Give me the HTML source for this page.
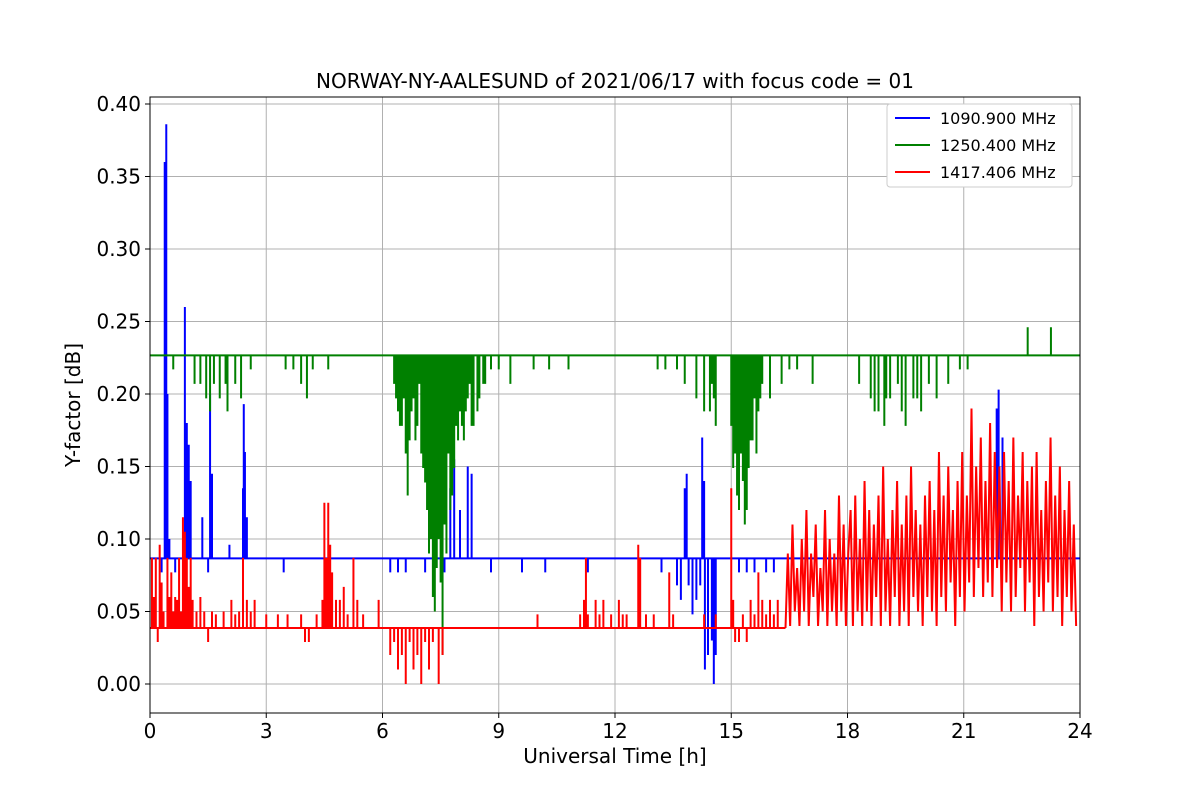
<!DOCTYPE html>
<html><head><meta charset="utf-8">
<style>
body{margin:0;background:#fff;}
svg{display:block;font-family:"DejaVu Sans","Liberation Sans",sans-serif;}
</style></head>
<body>
<svg id="chart" width="1200" height="800">
<rect width="1200" height="800" fill="#fff"/>
<text x="615" y="88" font-size="20" text-anchor="middle">NORWAY-NY-AALESUND of 2021/06/17 with focus code = 01</text>
<g id="grid"></g>
<g id="series"></g>
<rect x="150" y="97" width="930" height="616" fill="none" stroke="#000" stroke-width="1"/>
<g id="axes"></g>
<text x="615" y="763" font-size="20" text-anchor="middle">Universal Time [h]</text>
<text transform="translate(80,405) rotate(-90)" font-size="20" text-anchor="middle">Y-factor [dB]</text>
<g>
<rect x="887" y="104" width="185" height="83" fill="#fff" stroke="#ccc" rx="3"/>
<g><line x1="895" y1="118" x2="930" y2="118" stroke="#0000ff" stroke-width="2"/><text x="940" y="124" font-size="16">1090.900 MHz</text></g>
<g><line x1="895" y1="145" x2="930" y2="145" stroke="#008000" stroke-width="2"/><text x="940" y="151" font-size="16">1250.400 MHz</text></g>
<g><line x1="895" y1="172" x2="930" y2="172" stroke="#ff0000" stroke-width="2"/><text x="940" y="178" font-size="16">1417.406 MHz</text></g>
</g>
</svg>
<script>
const xTicks=[0,3,6,9,12,15,18,21,24];
const yTicks=[0,0.05,0.10,0.15,0.20,0.25,0.30,0.35,0.40];
const yTickLabels=["0.00","0.05","0.10","0.15","0.20","0.25","0.30","0.35","0.40"];
const blueBase=0.0866, greenBase=0.2266, redBase=0.0386;
const blueSpikeT=[0.3,0.38,0.42,0.45,0.5,0.65,0.9,0.95,1.0,1.05,1.35,1.5,1.55,1.6,2.05,2.4,2.42,2.45,2.5,3.45,6.2,6.4,6.6,7.1,7.6,7.75,7.85,8.0,8.2,8.3,8.8,9.6,10.2,11.3,13.2,13.6,13.7,13.8,13.85,13.9,14.0,14.1,14.2,14.25,14.3,14.32,14.4,14.5,14.55,14.6,15.2,15.4,15.6,15.9,16.1,21.85,21.9,22.0];
const blueSpikeV=[0.077,0.36,0.386,0.2,0.1,0.077,0.26,0.18,0.165,0.14,0.115,0.077,0.2,0.145,0.096,0.135,0.193,0.16,0.115,0.077,0.077,0.077,0.077,0.077,0.077,0.135,0.155,0.12,0.15,0.145,0.077,0.077,0.077,0.077,0.077,0.068,0.058,0.135,0.145,0.068,0.048,0.058,0.068,0.17,0.14,0.01,0.02,0.03,0.0,0.02,0.077,0.077,0.077,0.077,0.077,0.19,0.203,0.17];
const greenSpikeT=[0.6,1.15,1.3,1.45,1.55,1.65,1.8,1.95,2.0,2.2,2.35,2.6,3.5,3.7,3.9,4.05,4.2,4.6,6.3,6.4,6.5,6.6,6.65,6.75,6.85,6.95,7.05,7.15,7.2,7.3,7.35,7.45,7.5,7.55,7.6,7.7,7.8,7.9,8.0,8.1,8.2,8.35,8.5,8.65,8.8,9.0,9.3,9.9,10.3,10.8,13.1,13.3,13.6,13.8,14.1,14.3,14.5,14.6,15.0,15.1,15.2,15.3,15.35,15.45,15.55,15.6,15.7,15.8,16.0,16.3,16.5,16.7,17.1,18.3,18.6,18.8,18.95,19.1,19.3,19.5,19.7,19.9,20.1,20.3,20.6,20.9,21.1,22.65,23.25,
6.35,6.45,6.55,6.7,6.8,6.9,7.0,7.1,7.25,7.4,7.65,7.75,7.85,7.95,8.05,8.15,8.25,8.3,8.45,8.6,14.45,14.55,15.05,15.15,15.25,15.4,15.5,15.65,15.75,18.7,19.0,19.4,19.8];
const greenSpikeV=[0.217,0.207,0.207,0.197,0.188,0.207,0.197,0.207,0.188,0.207,0.197,0.217,0.217,0.217,0.207,0.197,0.217,0.217,0.207,0.188,0.178,0.159,0.13,0.188,0.168,0.207,0.149,0.12,0.09,0.06,0.05,0.1,0.07,0.02,0.11,0.159,0.13,0.178,0.188,0.168,0.197,0.178,0.197,0.207,0.217,0.217,0.207,0.217,0.217,0.217,0.217,0.217,0.217,0.207,0.197,0.188,0.207,0.178,0.178,0.159,0.12,0.14,0.11,0.149,0.168,0.197,0.188,0.207,0.197,0.207,0.217,0.217,0.207,0.207,0.197,0.188,0.178,0.197,0.207,0.178,0.197,0.188,0.207,0.197,0.207,0.217,0.217,0.246,0.246,
0.197,0.178,0.197,0.168,0.197,0.178,0.159,0.139,0.1,0.08,0.09,0.12,0.149,0.168,0.178,0.188,0.207,0.178,0.188,0.207,0.188,0.197,0.149,0.13,0.159,0.12,0.168,0.159,0.197,0.188,0.197,0.188,0.197];
const redSpikeT=[0.05,0.1,0.15,0.2,0.25,0.3,0.35,0.45,0.5,0.55,0.6,0.65,0.7,0.75,0.8,0.85,0.9,0.95,1.0,1.05,1.1,1.2,1.3,1.4,1.5,1.6,1.7,1.9,2.1,2.2,2.3,2.4,2.5,2.6,2.7,3.0,3.3,3.55,3.9,4.0,4.1,4.3,4.45,4.5,4.55,4.6,4.65,4.7,4.8,4.9,5.0,5.1,5.25,5.35,5.5,5.9,6.2,6.3,6.4,6.5,6.6,6.7,6.8,6.9,7.0,7.1,7.2,7.3,7.45,7.55,10.0,11.1,11.2,11.25,11.3,11.5,11.6,11.7,11.9,12.1,12.2,12.3,12.6,12.65,12.8,13.0,13.4,13.5,14.3,14.6,15.0,15.05,15.1,15.2,15.3,15.4,15.5,15.6,15.7,15.8,15.9,16.0,16.1,16.2];
const redSpikeV=[0.087,0.06,0.087,0.029,0.096,0.07,0.05,0.087,0.06,0.077,0.05,0.06,0.058,0.087,0.05,0.115,0.105,0.087,0.067,0.087,0.058,0.05,0.06,0.05,0.029,0.05,0.048,0.05,0.058,0.048,0.05,0.087,0.058,0.05,0.058,0.048,0.048,0.048,0.048,0.029,0.029,0.048,0.058,0.125,0.087,0.125,0.096,0.077,0.058,0.058,0.067,0.048,0.087,0.058,0.048,0.058,0.02,0.029,0.01,0.02,0.0,0.029,0.01,0.02,0.0,0.029,0.01,0.029,0.0,0.02,0.048,0.048,0.058,0.087,0.048,0.058,0.048,0.058,0.048,0.058,0.048,0.048,0.096,0.087,0.048,0.048,0.077,0.048,0.048,0.048,0.135,0.058,0.029,0.029,0.048,0.029,0.058,0.048,0.077,0.058,0.048,0.058,0.048,0.058];
const redDenseStart=16.4, redDenseStep=0.06;
const redDenseV=[0.09,0.04,0.11,0.05,0.08,0.04,0.10,0.05,0.12,0.04,0.09,0.06,0.11,0.04,0.08,0.05,0.12,0.04,0.10,0.05,0.09,0.04,0.13,0.05,0.11,0.04,0.09,
0.12,0.04,0.13,0.05,0.10,0.04,0.14,0.05,0.12,0.04,0.11,0.06,0.13,0.04,0.15,0.05,0.10,0.04,0.12,0.06,0.14,0.04,0.11,0.05,0.13,0.04,0.15,0.06,0.12,0.05,0.11,0.04,0.13,
0.06,0.14,0.05,0.12,0.04,0.16,0.06,0.13,0.05,0.15,0.07,0.12,0.04,0.14,0.06,0.16,0.05,0.13,0.07,0.19,0.06,0.15,0.08,0.17,0.06,0.14,0.07,0.18,0.06,0.16,0.08,0.15,0.05,
0.16,0.07,0.14,0.05,0.17,0.06,0.13,0.08,0.16,0.05,0.14,0.07,0.15,0.04,0.16,0.06,0.12,0.05,0.14,0.07,0.17,0.05,0.13,0.06,0.15,0.04,0.12,0.06,0.14,0.05,0.11,0.04];

const NS="http://www.w3.org/2000/svg";
const X=t=>150+t*(930/24);
const Y=v=>684-v*1450;
function mk(tag,attrs,parent){const e=document.createElementNS(NS,tag);for(const k in attrs)e.setAttribute(k,attrs[k]);parent.appendChild(e);return e;}
const grid=document.getElementById('grid'),axes=document.getElementById('axes'),ser=document.getElementById('series');
xTicks.forEach(t=>{
 const g=mk('line',{x1:X(t),x2:X(t),y1:97,y2:713,stroke:'#b0b0b0','stroke-width':1},grid);
 
 
 mk('line',{x1:X(t),x2:X(t),y1:713,y2:718,stroke:'#000'},axes);
 const tx=mk('text',{x:X(t),y:738,'font-size':20,'text-anchor':'middle'},axes);tx.textContent=t;
 
 
});
yTicks.forEach((v,i)=>{
 const g=mk('line',{x1:150,x2:1080,y1:Y(v),y2:Y(v),stroke:'#b0b0b0','stroke-width':1},grid);
 
 
 mk('line',{x1:145,x2:150,y1:Y(v),y2:Y(v),stroke:'#000'},axes);
 const tx=mk('text',{x:141,y:Y(v)+7,'font-size':20,'text-anchor':'end'},axes);tx.textContent=yTickLabels[i];
 
 
});
function spikes(T,V,base,color,name,tEnd){
 const idx=T.map((t,i)=>i).sort((a,b)=>T[a]-T[b]);
 let d='M'+X(0)+','+Y(base);
 idx.forEach(i=>{const t=T[i];d+=' L'+X(t)+','+Y(base)+' L'+X(t)+','+Y(V[i])+' L'+X(t)+','+Y(base);});
 d+=' L'+X(tEnd)+','+Y(base);
 const p=mk('path',{d:d,fill:'none',stroke:color,'stroke-width':2,'stroke-linejoin':'miter'},ser);
 
 
}
spikes(blueSpikeT,blueSpikeV,blueBase,'#0000ff','series-1090-mhz',24);
spikes(greenSpikeT,greenSpikeV,greenBase,'#008000','series-1250-mhz',24);
spikes(redSpikeT,redSpikeV,redBase,'#ff0000','series-1417-mhz-early',redDenseStart);
let d='M'+X(redDenseStart)+','+Y(redBase);
redDenseV.forEach((v,i)=>{d+=' L'+X(redDenseStart+(i+1)*redDenseStep)+','+Y(v);});
const rp=mk('path',{d:d,fill:'none',stroke:'#ff0000','stroke-width':2},ser);


</script>
</body></html>
